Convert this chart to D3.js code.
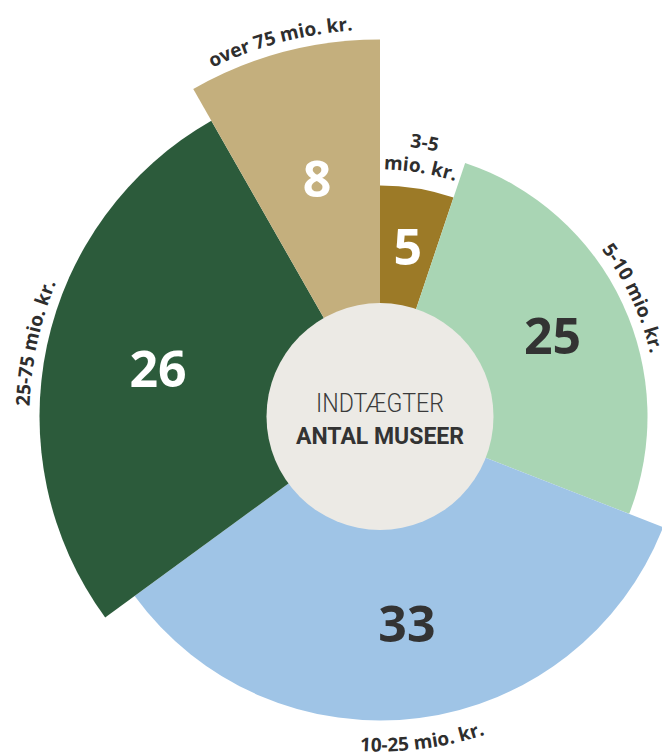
<!DOCTYPE html>
<html>
<head>
<meta charset="utf-8">
<script src="https://cdn.jsdelivr.net/npm/d3@7"></script>
<style>
  body { margin: 0; background: #fff; }
  .cat { font-family: "Open Sans", sans-serif; font-weight: 700; font-size: 19px; fill: #2e2e2e; }
  .val { font-family: "Open Sans", sans-serif; font-weight: 700; font-size: 50px; }
</style>
</head>
<body>
<div id="chart"></div>
<script>
// income groups and number of museums in each
var categories = ['3-5 mio. kr.', '5-10 mio. kr.', '10-25 mio. kr.', '25-75 mio. kr.', 'over 75 mio. kr.']
var counts = [5, 25, 33, 26, 8]

var centerTitle = 'INDTÆGTER'
var centerSub = 'ANTAL MUSEER'

var width = 662
var height = 755
var cx = 380
var cy = 416.5

var color = d3.scaleOrdinal()
    .domain(categories)
    .range(['#9c7a27', '#a9d5b4', '#9fc4e6', '#2c5b3b', '#c4af7d'])

// number colour, white on the dark slices
var textColor = d3.scaleOrdinal()
    .domain(categories)
    .range(['#fff', '#333', '#333', '#fff', '#fff'])

// each group gets a bit longer than the previous one
var radius = d3.scaleLinear()
    .domain([0, categories.length - 1])
    .range([231, 377])

var innerR = 113.5

var data = categories.map(function (c, i) {
    return { name: c, count: counts[i], index: i }
})

var pie = d3.pie()
    .sort(null)
    .value(function (d) { return d.count })

var arcs = pie(data)

var arc = d3.arc()
    .innerRadius(0)
    .outerRadius(function (d) { return radius(d.data.index) })

var svg = d3.select('#chart')
    .append('svg')
    .attr('width', width)
    .attr('height', height)

var g = svg.append('g')
    .attr('transform', 'translate(' + cx + ',' + cy + ')')

g.selectAll('path.slice')
    .data(arcs)
    .enter()
    .append('path')
    .attr('class', 'slice')
    .attr('d', arc)
    .style('fill', function (d) { return color(d.data.name) })

// hidden arcs the category labels run along
function labelPath(r, mid, flip) {
    var p = d3.path()
    var span = 0.9
    if (flip) {
        p.arc(0, 0, r, mid + span - Math.PI / 2, mid - span - Math.PI / 2, true)
    } else {
        p.arc(0, 0, r, mid - span - Math.PI / 2, mid + span - Math.PI / 2, false)
    }
    return p.toString()
}

var defs = svg.append('defs')

arcs.forEach(function (d, i) {
    var mid = (d.startAngle + d.endAngle) / 2
    var r = radius(d.data.index)
    var flip = mid > Math.PI / 2 && mid < Math.PI * 1.5
    var lines = [d.data.name]
    var offsets = [flip ? 31 : 10]

    // narrow slice: break the label over two lines
    if (d.endAngle - d.startAngle < 0.5) {
        var cut = d.data.name.indexOf(' ')
        lines = [d.data.name.slice(0, cut), d.data.name.slice(cut + 1)]
        offsets = [40, 16]
    }

    lines.forEach(function (txt, j) {
        var id = 'lab' + i + '_' + j
        defs.append('path')
            .attr('id', id)
            .attr('d', labelPath(r + offsets[j], mid, flip))

        g.append('text')
            .attr('class', 'cat')
            .append('textPath')
            .attr('href', '#' + id)
            .attr('startOffset', '50%')
            .attr('text-anchor', 'middle')
            .text(txt)
    })
})

// center circle
g.append('circle')
    .attr('r', innerR)
    .style('fill', '#eceae5')

g.append('text')
    .attr('y', -4.5)
    .attr('text-anchor', 'middle')
    .attr('textLength', 128)
    .attr('lengthAdjust', 'spacingAndGlyphs')
    .style('font-family', '"Liberation Sans Narrow", Roboto, sans-serif')
    .style('font-weight', 300)
    .style('font-size', '25px')
    .style('fill', '#3a3a3a')
    .text(centerTitle)

g.append('text')
    .attr('y', 27.5)
    .attr('text-anchor', 'middle')
    .attr('textLength', 168)
    .attr('lengthAdjust', 'spacingAndGlyphs')
    .style('font-family', '"Liberation Sans Narrow", Roboto, sans-serif')
    .style('font-weight', 700)
    .style('font-size', '24px')
    .style('fill', '#333')
    .text(centerSub)

// the counts, halfway out in each slice
var labelArc = d3.arc()
    .innerRadius(innerR)
    .outerRadius(function (d) { return radius(d.data.index) })

g.selectAll('text.val')
    .data(arcs)
    .enter()
    .append('text')
    .attr('class', 'val')
    .attr('transform', function (d) { return 'translate(' + labelArc.centroid(d) + ')' })
    .attr('text-anchor', 'middle')
    .attr('dy', '0.36em')
    .style('fill', function (d) { return textColor(d.data.name) })
    .text(function (d) { return d.data.count })
</script>
</body>
</html>
